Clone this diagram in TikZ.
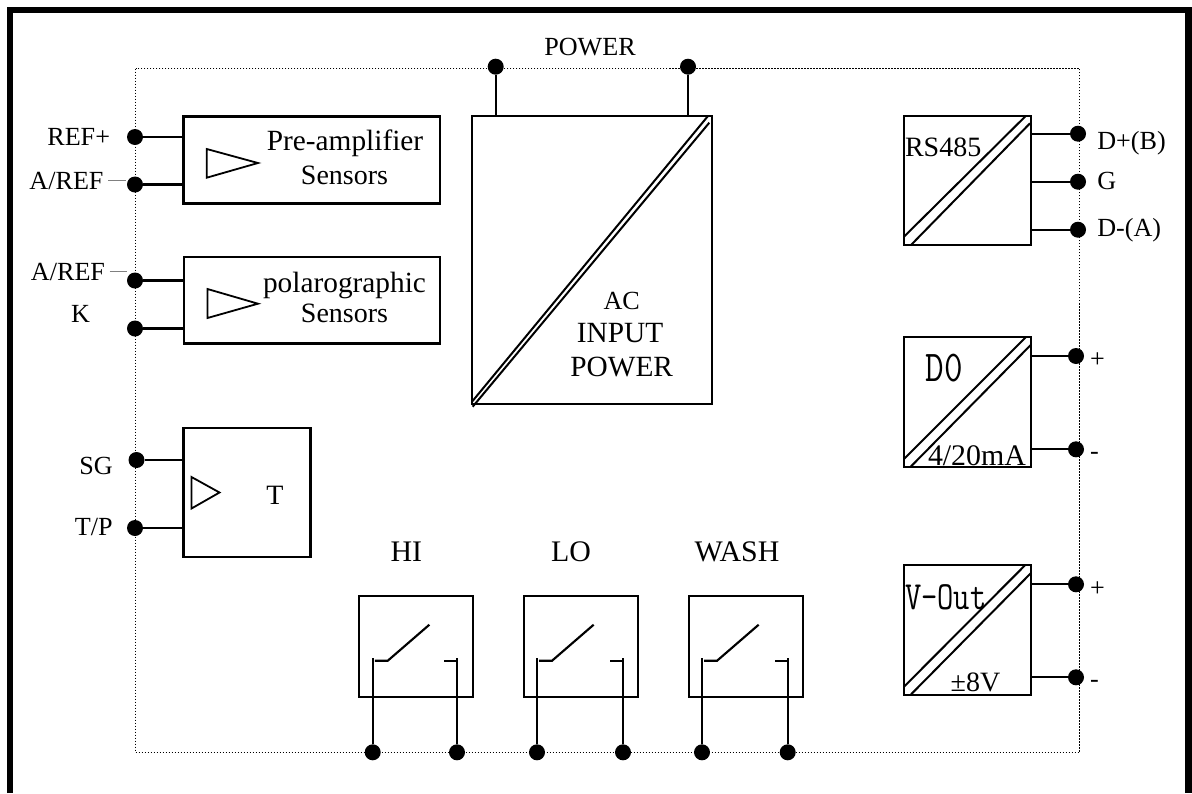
\documentclass[tikz,border=0pt]{standalone}
\usepackage{fontspec}
\usepackage{graphicx}
\setmainfont{Liberation Serif}
\usetikzlibrary{fit}
\newfontfamily\narrowmono{Latin Modern Mono}
\tikzset{
  x=0.75pt,y=-0.75pt,
  frame/.style={line width=4.6pt,line cap=butt,line join=miter},
  enclosure/.style={line width=1.1pt,dash pattern=on 1pt off 1.25pt,black},
  box/.style={draw,line width=1.6pt,inner sep=0pt,outer sep=0pt},
  wire/.style={line width=1.6pt},
  thin line/.style={line width=1.5pt},
  amp/.style={line width=1.35pt,line join=miter},
  dashmark/.style={line width=1pt,gray},
  pin/.style={circle,fill=black,inner sep=0pt,outer sep=0pt,minimum size=12pt},
  lbl/.style={inner sep=0pt,outer sep=0pt,anchor=base},
  lblL/.style={inner sep=0pt,outer sep=0pt,anchor=base west},
  lblR/.style={inner sep=0pt,outer sep=0pt,anchor=base east},
  s26/.style={font=\fontsize{19.6}{22}\selectfont},
  s28/.style={font=\fontsize{21}{24}\selectfont},
  s29/.style={font=\fontsize{22}{24}\selectfont},
  s30/.style={font=\fontsize{22.4}{25}\selectfont},
}
\begin{document}
\begin{tikzpicture}
\useasboundingbox (0,0) rectangle (1192,793);
\fill[white] (0,0) rectangle (1192,793);
% outer frame, open at the bottom
\draw[frame] (10.3,793) -- (10.3,10.2) -- (1188.5,10.2) -- (1188.5,793);
% dotted enclosure
\draw[enclosure] (135.5,68.5) rectangle (1079.5,752.5);

% ---- terminals
\node[pin] (pwrA) at (495.7,66.7) {};
\node[pin] (pwrB) at (688,66.7) {};
\node[pin] (refp) at (135,137) {};
\node[pin] (arefA) at (135,184.5) {};
\node[pin] (arefB) at (135,280.5) {};
\node[pin] (k) at (135,328.5) {};
\node[pin] (sg) at (136.5,460) {};
\node[pin] (tp) at (135,528) {};
\node[pin] (dplus) at (1078,133.7) {};
\node[pin] (gnd) at (1078,181.7) {};
\node[pin] (dminus) at (1078,229.7) {};
\node[pin] (doP) at (1076,356) {};
\node[pin] (doM) at (1076,449.3) {};
\node[pin] (voP) at (1076,584.3) {};
\node[pin] (voM) at (1076,677.3) {};
\node[pin] (hiA) at (372.7,752.3) {};
\node[pin] (hiB) at (457,752.3) {};
\node[pin] (loA) at (537,752.3) {};
\node[pin] (loB) at (623,752.3) {};
\node[pin] (waA) at (702,752.3) {};
\node[pin] (waB) at (787.7,752.3) {};

% ---- boxes
\node[box,fit={(183.5,116.5)(440,203.5)}] (pre) {};
\node[box,fit={(184,257)(440,343.5)}] (pol) {};
\node[box,fit={(183.5,428.3)(310.5,557.3)}] (tbox) {};
\node[box,fit={(472,116)(711.7,404)}] (ac) {};
\node[box,fit={(904,116)(1030.7,245.3)}] (rs) {};
\node[box,fit={(904,337.3)(1030.7,466.7)}] (dobox) {};
\node[box,fit={(904,565.3)(1030.7,694.7)}] (vo) {};
\node[box,fit={(359.3,596)(473.3,696.7)}] (hi) {};
\node[box,fit={(524,596)(637.7,696.7)}] (lo) {};
\node[box,fit={(689,596)(802.7,696.7)}] (wa) {};

% ---- connectors
\draw[wire] (pwrA) -- (pwrA |- ac.north);
\draw[wire] (pwrB) -- (pwrB |- ac.north);
\draw[wire] (refp) -- (refp -| pre.west);
\draw[wire] (arefA) -- (arefA -| pre.west);
\draw[wire] (arefB) -- (arefB -| pol.west);
\draw[wire] (k) -- (k -| pol.west);
\draw[wire] (sg) -- (sg -| tbox.west);
\draw[wire] (tp) -- (tp -| tbox.west);
\draw[wire] (dplus) -- (dplus -| rs.east);
\draw[wire] (gnd) -- (gnd -| rs.east);
\draw[wire] (dminus) -- (dminus -| rs.east);
\draw[wire] (doP) -- (doP -| dobox.east);
\draw[wire] (doM) -- (doM -| dobox.east);
\draw[wire] (voP) -- (voP -| vo.east);
\draw[wire] (voM) -- (voM -| vo.east);
% relay contacts
\foreach \a/\b in {hiA/hiB,loA/loB,waA/waB}{
  \draw[wire] (\a) -- ([yshift=70.5pt]\a.center);
  \draw[wire] (\b) -- ([yshift=70.5pt]\b.center);
  \draw[wire] ([xshift=1.6pt,yshift=68.7pt]\a.center) -- ([xshift=11.3pt,yshift=68.7pt]\a.center) -- ([xshift=42.5pt,yshift=95.7pt]\a.center);
  \draw[wire] ([xshift=-9.5pt,yshift=68.7pt]\b.center) -- ([yshift=68.7pt]\b.center);
}

% ---- amplifier triangles
\draw[amp] (206.7,149) -- (206.7,177.7) -- (258,163) -- cycle;
\draw[amp] (207.5,289) -- (207.5,318) -- (258,303.7) -- cycle;
\draw[amp] (191.5,477) -- (191.5,508.5) -- (219.5,492.5) -- cycle;

% ---- isolation diagonals
\draw[thin line] (472,401.7) -- (708,116);
\draw[thin line] (472.7,406.7) -- (709.3,122.7);
\draw[thin line] (904,236.7) -- (1025.7,116);
\draw[thin line] (910.7,245.3) -- (1030,123.3);
\draw[thin line] (904,459) -- (1025.7,337.3);
\draw[thin line] (910.7,466.7) -- (1030.7,345);
\draw[thin line] (904,686.7) -- (1025,565.3);
\draw[thin line] (910.7,694.7) -- (1030.7,573.3);

% ---- dashes after A/REF
\draw[dashmark] (108,180.5) -- (126,180.5);
\draw[dashmark] (109.5,271.7) -- (127,271.7);

% ---- labels
\node[lbl,s26] (tPower) at (590,55) {POWER};
\node[lblR,s26] (tRef) at (110,145.7) {REF+};
\node[lblR,s26] (tArefA) at (103.5,189) {A/REF};
\node[lblR,s26] (tArefB) at (105,280) {A/REF};
\node[lbl,s26] (tK) at (80.5,322.7) {K};
\node[lblR,s26] (tSg) at (112.7,474) {SG};
\node[lblR,s26] (tTp) at (112.7,535) {T/P};
\node[lbl,s29] (tPre) at (345,150) {Pre-amplifier};
\node[lbl,s28] (tPreS) at (344.5,184) {Sensors};
\node[lbl,s29] (tPol) at (344.5,292) {polarographic};
\node[lbl,s28] (tPolS) at (344.5,322.7) {Sensors};
\node[lbl,s28] (tT) at (275,504) {T};
\node[lbl,s26] (tAc) at (621.7,309) {AC};
\node[lbl,s29] (tInput) at (620,342.5) {INPUT};
\node[lbl,s29] (tAcP) at (621.7,376) {POWER};
\node[lblL,s28] (tRs) at (905,156) {RS485};
\node[lblL,s26] (tDp) at (1097.3,149.3) {D+(B)};
\node[lblL,s26] (tG) at (1097.3,189.3) {G};
\node[lblL,s26] (tDm) at (1097.3,236.7) {D-(A)};
\node[lbl] (tDo) at (944.5,381) {\fontsize{33}{36}\narrowmono\scalebox{0.82}[1]{D0}};
\node[lblL,s30] (t420) at (928,465) {4/20mA};
\node[lblL] (tVo) at (905,609) {\fontsize{30}{34}\narrowmono\scalebox{0.79}[1]{V-Out}};
\node[lblL,s28] (t8v) at (950.7,691.7) {±8V};
\node[lblL,s26] (tDoP) at (1090,367) {+};
\node[lblL,s26] (tDoM) at (1090,459) {-};
\node[lblL,s26] (tVoP) at (1090,596) {+};
\node[lblL,s26] (tVoM) at (1090,687.5) {-};
\node[lbl,s30] (tHi) at (406.3,561) {HI};
\node[lbl,s30] (tLo) at (571,561) {LO};
\node[lbl,s30] (tWa) at (737,561) {WASH};
\end{tikzpicture}
\end{document}
